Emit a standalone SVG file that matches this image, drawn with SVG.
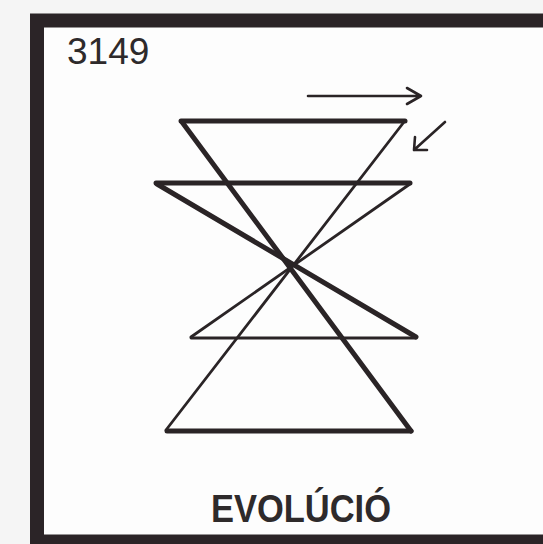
<svg xmlns="http://www.w3.org/2000/svg" width="543" height="544" viewBox="0 0 543 544">
<defs>
<style>
.frame{fill:#fdfdfd;stroke:#2b2427;stroke-width:14}
.thick{stroke:#2a2426;stroke-width:5;stroke-linecap:round;fill:none}
.thin{stroke:#2a2426;stroke-width:2.8;stroke-linecap:round;fill:none}
.arr{stroke:#2a2426;stroke-width:2.6;stroke-linecap:round;stroke-linejoin:round;fill:none}
.lbl{font-family:"Liberation Sans",Arial,sans-serif;fill:#2e2a2b}
</style>
</defs>
<rect x="0" y="0" width="543" height="544" fill="#f5f5f5"/>
<rect id="frame" class="frame" x="37" y="20.5" width="530" height="521"/>
<g id="number"><text class="lbl" x="67" y="64" font-size="37">3149</text></g>
<g id="figure">
<line class="thick" x1="181" y1="121" x2="405" y2="121"/>
<line class="thick" x1="156" y1="183" x2="410" y2="183"/>
<line class="thick" x1="182" y1="122" x2="411" y2="431"/>
<line class="thick" x1="157" y1="184" x2="416" y2="337"/>
<line class="thin" x1="404" y1="122" x2="166" y2="430"/>
<line class="thin" x1="410" y1="184" x2="191" y2="337"/>
<line class="thin" x1="191" y1="338" x2="416" y2="338"/>
<line class="thick" x1="167" y1="431" x2="411" y2="431"/>
</g>
<g id="arrows">
<path class="arr" d="M308 96 H421 M407 88 L421 96 L407 104"/>
<path class="arr" d="M445 122 L414 150 M415 137 L414 150 L427 150"/>
</g>
<g id="title"><text class="lbl" x="211" y="522" font-size="38" font-weight="bold" textLength="180" lengthAdjust="spacingAndGlyphs">EVOLÚCIÓ</text></g>
</svg>
